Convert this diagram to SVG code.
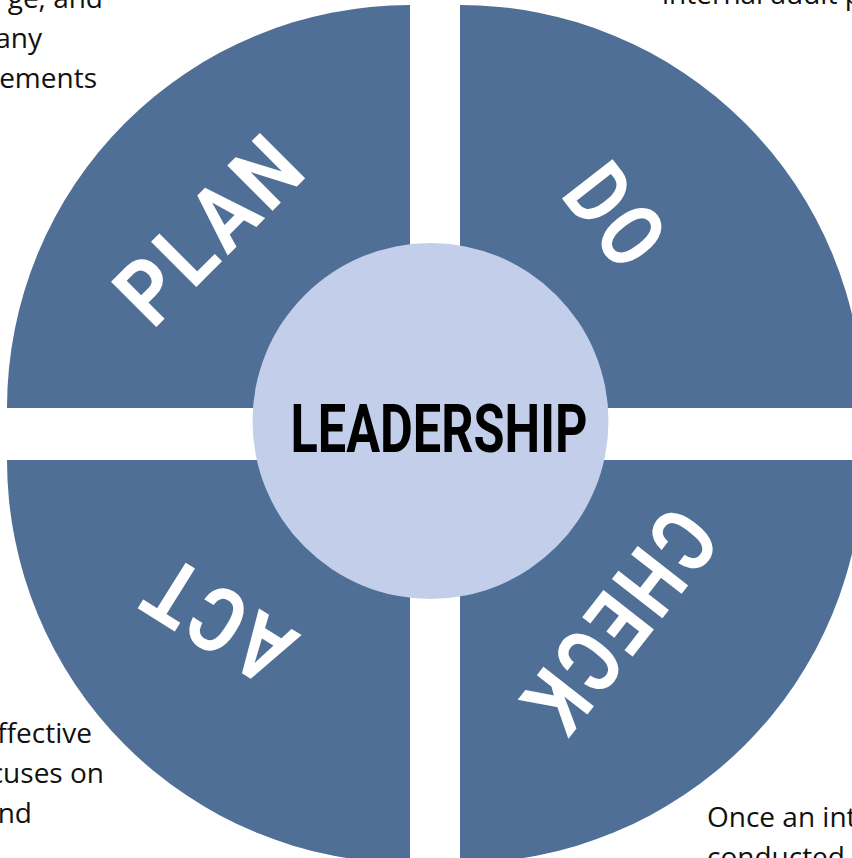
<svg xmlns="http://www.w3.org/2000/svg" width="852" height="858" viewBox="0 0 852 858">
<style>
.seg{fill:#506F96}
.hub{fill:#C3CFEA}
.lbl{font-family:Roboto,"Liberation Sans",sans-serif;font-weight:700;fill:#FFFFFF;text-anchor:middle;letter-spacing:6px}
.hubt{font-family:Roboto,"Liberation Sans",sans-serif;font-weight:700;fill:#000000;text-anchor:middle}
.para{font-family:"Open Sans","Liberation Sans",sans-serif;font-size:28px;fill:#111111}
.pe{text-anchor:end}
</style>
<rect x="0" y="0" width="852" height="858" fill="#FFFFFF"/>
<g id="text-plan-side">
<text class="para pe" x="103" y="8">ge, and</text>
<text class="para pe" x="42" y="48">any</text>
<text class="para pe" x="97" y="88">ements</text>
</g>
<g id="text-do-side">
<text class="para" x="662" y="4">internal audit p</text>
</g>
<g id="text-act-side">
<text class="para pe" x="92" y="743">ffective</text>
<text class="para pe" x="104" y="783">cuses on</text>
<text class="para pe" x="32" y="823">nd</text>
</g>
<g id="text-check-side">
<text class="para" x="707" y="827">Once an int</text>
<text class="para" x="707" y="867">conducted</text>
</g>
<g id="plan">
<path class="seg" d="M410,408 L7,408 A403,403 0 0 1 410,5 Z"/>
<g transform="translate(210,228) rotate(-45)"><text class="lbl" x="0" y="32" font-size="90" textLength="226" lengthAdjust="spacingAndGlyphs">PLAN</text></g>
</g>
<g id="do">
<path class="seg" d="M460,408 L460,5 A403,403 0 0 1 863,408 Z"/>
<g transform="translate(617,217) rotate(52)"><text class="lbl" x="0" y="32" font-size="90" textLength="106" lengthAdjust="spacingAndGlyphs">DO</text></g>
</g>
<g id="check">
<path class="seg" d="M460,460 L863,460 A403,403 0 0 1 460,863 Z"/>
<g transform="translate(619,622) rotate(128)"><text class="lbl" x="0" y="32" font-size="90" textLength="256" lengthAdjust="spacingAndGlyphs">CHECK</text></g>
</g>
<g id="act">
<path class="seg" d="M410,460 L410,863 A403,403 0 0 1 7,460 Z"/>
<g transform="translate(217,620) rotate(212)"><text class="lbl" x="0" y="32" font-size="90" textLength="160" lengthAdjust="spacingAndGlyphs">ACT</text></g>
</g>
<g id="leadership">
<circle class="hub" cx="430.5" cy="421" r="178"/>
<text class="hubt" x="439" y="451.7" font-size="67" textLength="297" lengthAdjust="spacingAndGlyphs">LEADERSHIP</text>
</g>
</svg>
